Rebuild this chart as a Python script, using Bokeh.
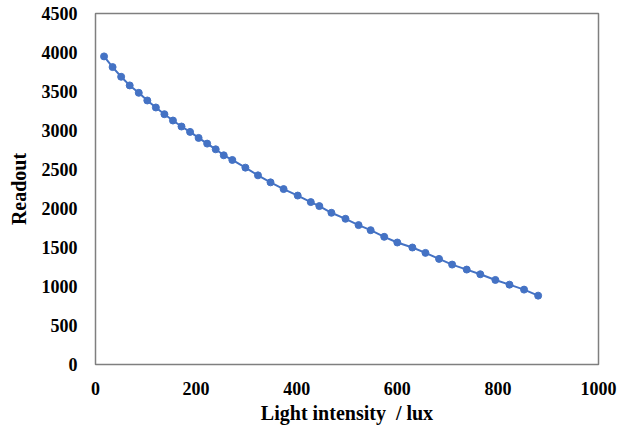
from bokeh.plotting import figure
from bokeh.models import Range1d, FixedTicker
from bokeh.embed import file_html
from bokeh.resources import INLINE

light_lux = [17, 34, 51, 68, 86, 103, 120, 137, 154, 171,
             188, 205, 222, 239, 255, 272, 298, 323, 348, 374,
             402, 428, 445, 469, 497, 523, 547, 574, 600, 630,
             656, 683, 709, 738, 765, 795, 823, 852, 880]
readout = [3950, 3813, 3689, 3578, 3483, 3385, 3295, 3209, 3128, 3051,
           2982, 2905, 2832, 2759, 2682, 2622, 2524, 2425, 2335, 2249,
           2166, 2082, 2031, 1945, 1868, 1787, 1722, 1637, 1564, 1500,
           1431, 1354, 1281, 1217, 1157, 1084, 1024, 960, 883]
x_ticks = [0, 200, 400, 600, 800, 1000]
y_ticks = [0, 500, 1000, 1500, 2000, 2500, 3000, 3500, 4000, 4500]

FONT = "Liberation Serif"
BLUE = "#4472C4"

p = figure(width=624, height=428, output_backend="svg", toolbar_location=None,
           x_range=Range1d(0, 1000), y_range=Range1d(0, 4500),
           min_border_left=95, min_border_right=26, min_border_top=13,
           min_border_bottom=64)

p.line(light_lux, readout, line_color=BLUE, line_width=2)
p.scatter(light_lux, readout, size=7, fill_color=BLUE, line_color=BLUE)

p.grid.visible = False
p.outline_line_color = "#7f7f7f"
p.outline_line_width = 1.5
p.background_fill_color = "white"
p.border_fill_color = "white"

for ax, ticks in ((p.xaxis[0], x_ticks), (p.yaxis[0], y_ticks)):
    ax.ticker = FixedTicker(ticks=ticks)
    ax.axis_line_color = None
    ax.major_tick_line_color = None
    ax.minor_tick_line_color = None
    ax.major_tick_out = 0
    ax.major_tick_in = 0
    ax.major_label_text_font = FONT
    ax.major_label_text_font_style = "bold"
    ax.major_label_text_font_size = "18px"
    ax.major_label_text_color = "black"
    ax.axis_label_text_font = FONT
    ax.axis_label_text_font_style = "bold"
    ax.axis_label_text_font_size = "20px"
    ax.axis_label_text_color = "black"

p.xaxis.axis_label = "Light intensity\u00a0 / lux"
p.yaxis.axis_label = "Readout"
p.xaxis.major_label_standoff = 17
p.yaxis.major_label_standoff = 18
p.xaxis.axis_label_standoff = 4
p.yaxis.axis_label_standoff = 9

open("out.html", "w").write(file_html(p, INLINE))
